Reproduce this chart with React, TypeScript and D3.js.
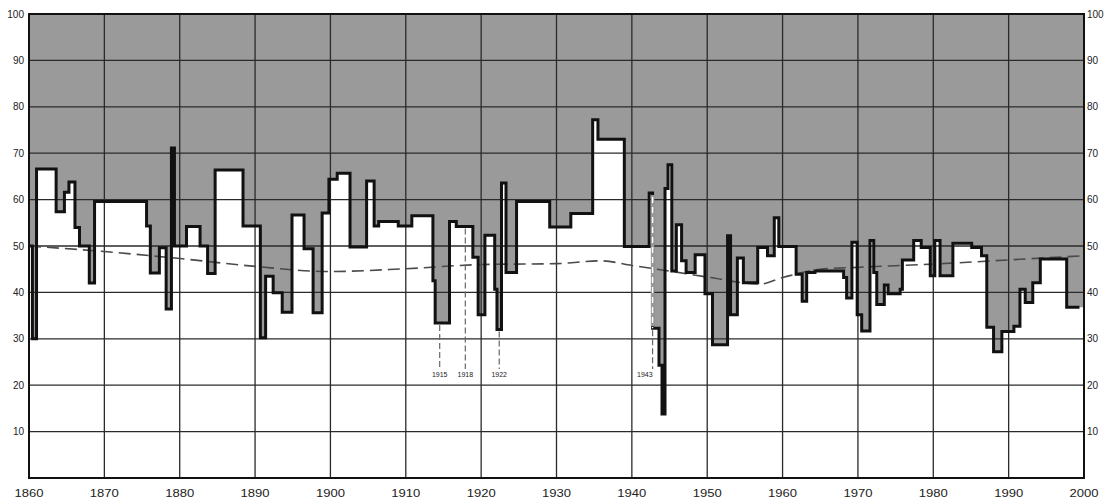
import React from "react";
import * as d3 from "d3";

// Step series: start year of each step and its value
const stepYears = [
  1860.0, 1860.45, 1861.0, 1863.6, 1864.7, 1865.3, 1866.1, 1866.7, 1868.0, 1868.7,
  1875.6, 1876.1, 1877.3, 1878.2, 1878.9, 1879.3, 1880.9, 1882.7, 1883.7, 1884.7,
  1888.4, 1890.7, 1891.4, 1892.4, 1893.6, 1894.9, 1896.5, 1897.7, 1898.9, 1899.8,
  1900.9, 1902.6, 1904.8, 1905.8, 1906.4, 1909.0, 1910.8, 1913.6, 1913.9, 1915.8,
  1916.7, 1918.9, 1919.6, 1920.5, 1921.8, 1922.1, 1922.7, 1923.3, 1924.7, 1929.1,
  1931.9, 1934.8, 1935.5, 1939.0, 1942.3, 1942.75, 1943.6, 1944.0, 1944.4, 1944.8,
  1945.3, 1945.9, 1946.6, 1947.2, 1948.4, 1949.7, 1950.7, 1952.7, 1953.1, 1954.0,
  1954.8, 1956.7, 1958.0, 1958.9, 1959.5, 1961.8, 1962.6, 1963.2, 1964.3, 1968.1,
  1968.5, 1969.2, 1969.9, 1970.5, 1971.6, 1972.1, 1972.5, 1973.5, 1974.0, 1975.6,
  1975.9, 1977.4, 1978.4, 1979.6, 1980.2, 1980.9, 1982.6, 1985.1, 1986.4, 1987.1,
  1988.0, 1989.1, 1990.7, 1991.5, 1992.2, 1993.2, 1994.2, 1997.7,
];
const stepValues = [
  50, 30, 66.6, 57.4, 61.6, 63.8, 54, 50, 42, 59.6,
  54.3, 44.2, 49.6, 36.4, 71.1, 50, 54.2, 50, 44.1, 66.4,
  54.3, 30.2, 43.5, 39.9, 35.7, 56.7, 49.4, 35.6, 57.1, 64.4,
  65.7, 49.8, 64, 54.3, 55.3, 54.3, 56.5, 42.5, 33.4, 55.3,
  54.2, 47.6, 35.2, 52.3, 40.7, 32, 63.6, 44.3, 59.6, 54.1,
  57, 77.2, 73, 49.9, 61.4, 32.3, 24.3, 13.8, 62.4, 67.5,
  44.6, 54.6, 46.8, 44.3, 48.1, 39.7, 28.7, 52.2, 35.2, 47.4,
  42.1, 49.7, 47.9, 56.1, 49.9, 43.9, 38.1, 44.3, 44.6, 43.2,
  38.8, 50.8, 35.2, 31.7, 51.2, 44.3, 37.4, 41.6, 39.7, 40.7,
  47, 51.2, 49.7, 43.6, 51.2, 43.6, 50.6, 49.7, 47.9, 32.5,
  27.2, 31.6, 32.7, 40.7, 37.8, 42.1, 47.2, 36.8,
];
const lineEndYear = 1999.4;

// Dashed trend line
const trendYears = [1860, 1870, 1880, 1890, 1900, 1910, 1920, 1930, 1936, 1940, 1945, 1950, 1957, 1960, 1965, 1970, 1980, 1990, 2000];
const trendValues = [50, 48.8, 47.3, 45.6, 44.5, 45.1, 46, 46.2, 46.8, 45.8, 44.6, 43.3, 41.8, 43.2, 45, 45.4, 46.1, 47, 47.9];

// Annotated years: x position (year), top value of leader, label
const noteYears = [1914.5, 1917.9, 1922.4];
const noteTops = [33.4, 54.2, 32];
const noteLabels = ["1915", "1918", "1922"];
const note43Year = 1942.75;
const note43Top = 61.4;
const note43Mid = 32.3;
const note43Label = "1943";

// Axis ticks
const xTicks = [1860, 1870, 1880, 1890, 1900, 1910, 1920, 1930, 1940, 1950, 1960, 1970, 1980, 1990, 2000];
const yTicks = [0, 10, 20, 30, 40, 50, 60, 70, 80, 90, 100];
const yTickLabels = ["", "10", "20", "30", "40", "50", "60", "70", "80", "90", "100"];

export default function App() {
  const x = d3.scaleLinear().domain([1860, 2000]).range([29, 1084]);
  const y = d3.scaleLinear().domain([0, 100]).range([478, 14]);

  const fillPts: [number, number][] = stepYears.map((yr, i) => [yr, stepValues[i]]);
  fillPts.push([2000, stepValues[stepValues.length - 1]]);
  const linePts: [number, number][] = stepYears.map((yr, i) => [yr, stepValues[i]]);
  linePts.push([lineEndYear, stepValues[stepValues.length - 1]]);

  const area = d3
    .area<[number, number]>()
    .x((d) => x(d[0]))
    .y0(y(100))
    .y1((d) => y(d[1]))
    .curve(d3.curveStepAfter);
  const line = d3
    .line<[number, number]>()
    .x((d) => x(d[0]))
    .y((d) => y(d[1]))
    .curve(d3.curveStepAfter);
  const trend = d3
    .line<number>()
    .x((_, i) => x(trendYears[i]))
    .y((d) => y(d))
    .curve(d3.curveMonotoneX);

  const font = "'Liberation Sans', Arial, sans-serif";
  const labelY = 377;

  return (
    <svg width={1111} height={500} style={{ position: "absolute", left: 0, top: 0, background: "#fff" }}>
      <rect x={x(1860)} y={y(100)} width={x(2000) - x(1860)} height={y(0) - y(100)} fill="#fff" />
      <path d={area(fillPts) || ""} fill="#9a9a9a" />
      {/* grid */}
      {yTicks.map((t) => (
        <line key={"h" + t} x1={x(1860)} x2={x(2000)} y1={y(t)} y2={y(t)} stroke="#2a2a2a" strokeWidth={1.3} />
      ))}
      {xTicks.map((t) => (
        <line key={"v" + t} x1={x(t)} x2={x(t)} y1={y(100)} y2={y(0)} stroke="#2a2a2a" strokeWidth={1.3} />
      ))}
      {/* trend */}
      <path d={trend(trendValues) || ""} fill="none" stroke="#4a4a4a" strokeWidth={1.6} strokeDasharray="12,6" />
      {/* step line */}
      <path d={line(linePts) || ""} fill="none" stroke="#111" strokeWidth={3} strokeLinejoin="miter" />
      {/* 1943 leader: white dashes over the step edge */}
      <line x1={x(note43Year)} x2={x(note43Year)} y1={y(note43Top) + 2} y2={y(note43Mid) - 2} stroke="#9a9a9a" strokeWidth={3.5} />
      <line x1={x(note43Year)} x2={x(note43Year)} y1={y(note43Top) + 4} y2={y(note43Mid)} stroke="#fff" strokeWidth={1.4} strokeDasharray="6,4" />
      <line x1={x(note43Year)} x2={x(note43Year)} y1={y(note43Mid) + 2} y2={labelY - 8} stroke="#666" strokeWidth={1.2} strokeDasharray="6,3" />
      <text x={x(note43Year)} y={labelY} fontSize={7} fontFamily={font} textAnchor="end" fill="#222">{note43Label}</text>
      {/* other leaders */}
      {noteYears.map((yr, i) => (
        <g key={"n" + i}>
          <line x1={x(yr)} x2={x(yr)} y1={y(noteTops[i]) + 2} y2={labelY - 8} stroke="#666" strokeWidth={1.2} strokeDasharray="6,3" />
          <text x={x(yr)} y={labelY} fontSize={7} fontFamily={font} textAnchor="middle" fill="#222">{noteLabels[i]}</text>
        </g>
      ))}
      {/* border */}
      <rect x={x(1860)} y={y(100)} width={x(2000) - x(1860)} height={y(0) - y(100)} fill="none" stroke="#111" strokeWidth={2} />
      {/* axes labels */}
      {yTicks.map((t, i) =>
        yTickLabels[i] ? (
          <g key={"yl" + t}>
            <text x={24} y={y(t) + 3.5} fontSize={10} fontFamily={font} textAnchor="end" fill="#222">{yTickLabels[i]}</text>
            <text x={1087} y={y(t) + 3.5} fontSize={10} fontFamily={font} textAnchor="start" fill="#222">{yTickLabels[i]}</text>
          </g>
        ) : null
      )}
      {xTicks.map((t) => (
        <text key={"xl" + t} x={x(t)} y={497} fontSize={10} fontFamily={font} textAnchor="middle" fill="#222" textLength={29} lengthAdjust="spacingAndGlyphs">{t}</text>
      ))}
    </svg>
  );
}
